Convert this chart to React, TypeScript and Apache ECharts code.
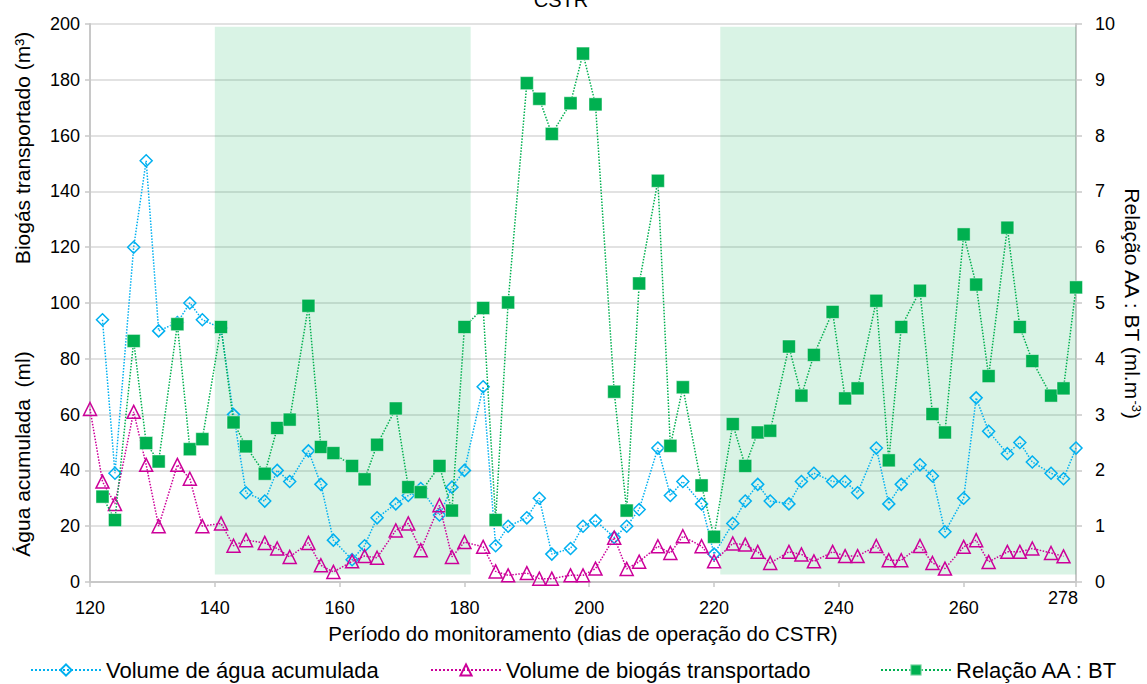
import React, { useEffect, useRef } from "react";
import * as echarts from "echarts";

const DIAS = [122,124,127,129,131,134,136,138,141,143,145,148,150,152,155,157,159,162,164,166,169,171,173,176,178,180,183,185,187,190,192,194,197,199,201,204,206,208,211,213,215,218,220,223,225,227,229,232,234,236,239,241,243,246,248,250,253,255,257,260,262,264,267,269,271,274,276,278];
const DIAS_BIOGAS = [120,122,124,127,129,131,134,136,138,141,143,145,148,150,152,155,157,159,162,164,166,169,171,173,176,178,180,183,185,187,190,192,194,197,199,201,204,206,208,211,213,215,218,220,223,225,227,229,232,234,236,239,241,243,246,248,250,253,255,257,260,262,264,267,269,271,274,276];

const AGUA = [94,39,120,151,90,93,100,94,91,60,32,29,40,36,47,35,15,8,13,23,28,31,33.5,24,34,40,70,13,20,23,30,10,12,20,22,16,20,26,48,31,36,28,10,21,29,35,29,28,36,39,36,36,32,48,28,35,42,38,18,30,66,54,46,50,43,39,37,48];
const BIOGAS = [62,36,28,61,42,20,42,37,20,21,13,15,14,12,9,14,6,3.6,7.4,9.3,8.7,18.5,21,11.4,27.5,9,14.3,12.6,3.8,2.4,3.2,1.2,1.2,2.4,2.4,4.8,15.9,4.7,7.3,12.8,10.4,16.4,12.8,7.4,13.8,13.4,10.8,6.8,10.8,9.9,7.4,10.8,9.3,9.3,12.9,7.8,7.8,12.9,6.8,4.8,12.6,15,7.2,10.8,10.8,12,10.4,9.2];
const RELACAO = [1.53,1.11,4.32,2.49,2.16,4.62,2.38,2.56,4.57,2.86,2.43,1.94,2.76,2.91,4.95,2.42,2.31,2.08,1.84,2.46,3.11,1.70,1.61,2.08,1.28,4.57,4.91,1.11,5.01,8.94,8.66,8.03,8.58,9.47,8.56,3.41,1.28,5.35,7.19,2.44,3.49,1.73,0.81,2.83,2.08,2.68,2.71,4.22,3.34,4.07,4.84,3.29,3.47,5.04,2.18,4.57,5.22,3.01,2.68,6.23,5.33,3.69,6.35,4.57,3.96,3.34,3.47,5.28];

const PERIODOS = [[140, 181], [221, 278]];
const SERIES_NAMES = ["Volume de água acumulada", "Volume de biogás transportado", "Relação AA : BT"];

const FONT = "'Liberation Sans', Arial, sans-serif";

export default function App() {
  const ref = useRef<HTMLDivElement>(null);
  useEffect(() => {
    if (!ref.current) return;
    const chart = echarts.init(ref.current, null, { renderer: "svg" });
    const blue = "#00B0F0";
    const pink = "#CC0099";
    const green = "#00B050";
    const axisGray = "#C8C8C8";
    const legendBase = {
      top: 659,
      padding: 0,
      itemWidth: 70,
      itemHeight: 14,
      textStyle: { fontSize: 22, color: "#000", fontFamily: FONT },
    };
    const option: any = {
      animation: false,
      textStyle: { fontFamily: FONT },
      grid: { left: 90, right: 71, top: 24, bottom: 102, containLabel: false },
      xAxis: {
        type: "value",
        min: 120,
        max: 278,
        interval: 20,
        axisLine: { show: true, lineStyle: { color: axisGray, width: 2 } },
        axisTick: { show: true, length: 5, lineStyle: { color: axisGray, width: 1.5 } },
        splitLine: { show: false },
        axisLabel: {
          color: "#000",
          fontSize: 18,
          margin: 17,
          fontFamily: FONT,
          formatter: (v: number) => (v === 278 ? "" : String(v)),
        },
      },
      yAxis: [
        {
          type: "value",
          min: 0,
          max: 200,
          interval: 20,
          axisLine: { show: true, lineStyle: { color: axisGray, width: 2 } },
          axisTick: { show: true, length: 5, lineStyle: { color: axisGray, width: 1.5 } },
          splitLine: { show: true, lineStyle: { color: "#D9D9D9", width: 1.5 } },
          axisLabel: { color: "#000", fontSize: 18, margin: 10, fontFamily: FONT },
        },
        {
          type: "value",
          min: 0,
          max: 10,
          interval: 1,
          position: "right",
          axisLine: { show: true, lineStyle: { color: axisGray, width: 2 } },
          axisTick: { show: true, length: 6, lineStyle: { color: axisGray, width: 1.5 } },
          splitLine: { show: false },
          axisLabel: { color: "#000", fontSize: 18, margin: 19, fontFamily: FONT },
        },
      ],
      legend: [
        { ...legendBase, data: [SERIES_NAMES[0]], left: 30 },
        { ...legendBase, data: [SERIES_NAMES[1]], left: 430 },
        { ...legendBase, data: [SERIES_NAMES[2]], left: 880 },
      ],
      graphic: [
        {
          type: "text",
          x: 561,
          y: 0,
          style: {
            text: "CSTR",
            align: "center",
            verticalAlign: "middle",
            fontSize: 20,
            fill: "#000",
            fontFamily: FONT,
          },
        },
        {
          type: "text",
          x: 583,
          y: 633,
          style: {
            text: "Período do monitoramento (dias de operação do CSTR)",
            align: "center",
            verticalAlign: "middle",
            fontSize: 20.5,
            fill: "#000",
            fontFamily: FONT,
          },
        },
        {
          type: "text",
          x: 22,
          y: 148,
          rotation: Math.PI / 2,
          style: {
            text: "Biogás transportado (m³)",
            align: "center",
            verticalAlign: "middle",
            fontSize: 21,
            fill: "#000",
            fontFamily: FONT,
          },
        },
        {
          type: "text",
          x: 22,
          y: 454,
          rotation: Math.PI / 2,
          style: {
            text: "Água acumulada  (ml)",
            align: "center",
            verticalAlign: "middle",
            fontSize: 21,
            fill: "#000",
            fontFamily: FONT,
          },
        },
        {
          type: "text",
          x: 1132,
          y: 303,
          rotation: -Math.PI / 2,
          style: {
            text: "Relação AA : BT (ml.m{s|-3})",
            align: "center",
            verticalAlign: "middle",
            fontSize: 21,
            fill: "#000",
            fontFamily: FONT,
            rich: {
              s: { fontSize: 13, verticalAlign: "top", lineHeight: 21, fontFamily: FONT, fill: "#000" },
            },
          },
        },
        {
          type: "text",
          x: 1063,
          y: 598,
          style: {
            text: "278",
            align: "center",
            verticalAlign: "middle",
            fontSize: 18,
            fill: "#000",
            fontFamily: FONT,
          },
        },
      ],
      series: [
        {
          name: "periodos",
          type: "line",
          data: [],
          z: 1,
          silent: true,
          markArea: {
            silent: true,
            itemStyle: { color: "rgba(0,176,80,0.15)" },
            data: PERIODOS.map(([a, b]) => [
              { xAxis: a, yAxis: 2.7 },
              { xAxis: b, yAxis: 199 },
            ]),
          },
        },
        {
          name: SERIES_NAMES[0],
          type: "line",
          yAxisIndex: 0,
          z: 3,
          data: DIAS.map((d, i) => [d, AGUA[i]]),
          symbol: "diamond",
          symbolSize: 12,
          itemStyle: { color: "rgba(255,255,255,0)", borderColor: blue, borderWidth: 1.5 },
          lineStyle: { color: blue, width: 1.5, type: "dotted" },
        },
        {
          name: SERIES_NAMES[1],
          type: "line",
          yAxisIndex: 0,
          z: 4,
          data: DIAS_BIOGAS.map((d, i) => [d, BIOGAS[i]]),
          symbol: "triangle",
          symbolSize: 13,
          itemStyle: { color: "rgba(255,255,255,0)", borderColor: pink, borderWidth: 1.5 },
          lineStyle: { color: pink, width: 1.5, type: "dotted" },
        },
        {
          name: SERIES_NAMES[2],
          type: "line",
          yAxisIndex: 1,
          z: 5,
          data: DIAS.map((d, i) => [d, RELACAO[i]]),
          symbol: "rect",
          symbolSize: 13,
          itemStyle: { color: green, borderColor: "rgba(255,255,255,0.45)", borderWidth: 1 },
          lineStyle: { color: green, width: 1.5, type: "dotted" },
        },
      ],
    };
    chart.setOption(option);
    return () => chart.dispose();
  }, []);
  return (
    <div
      ref={ref}
      style={{ position: "fixed", left: 0, top: 0, width: 1147, height: 684, background: "#fff" }}
    />
  );
}
